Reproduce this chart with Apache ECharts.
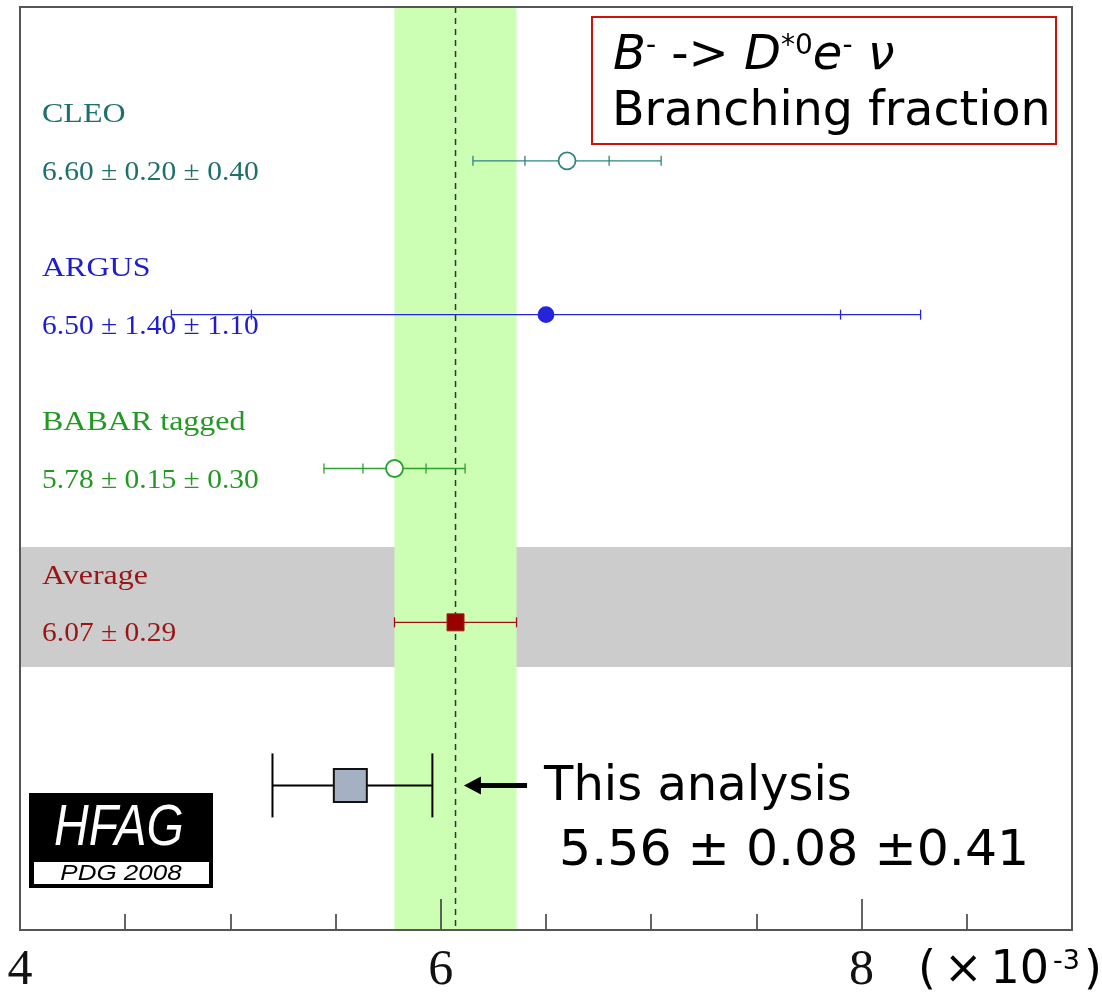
<!DOCTYPE html>
<html><head><meta charset="utf-8">
<script src="https://cdn.jsdelivr.net/npm/echarts@6/dist/echarts.min.js"></script>
<style>html,body{margin:0;padding:0;background:#fff}#c{width:1102px;height:995px}</style>
</head><body><div id="c"></div><script>
// ---- axis ----
const X_MIN = 4, X_MAX = 9, X_INTERVAL = 2;
const Y_MIN = 0, Y_MAX = 6;
const xTickLabels = [4, 6, 8];

// ---- measurements ----
const expNames = ['CLEO', 'ARGUS', 'BABAR tagged'];
const expValues = [6.60, 6.50, 5.78];
const expStat = [0.20, 1.40, 0.15];
const expSyst = [0.40, 1.10, 0.30];
const expLabels = ['6.60 ± 0.20 ± 0.40', '6.50 ± 1.40 ± 1.10', '5.78 ± 0.15 ± 0.30'];
const expRows = [5, 4, 3];
const expTextColors = ['#1e706c', '#1c1cd0', '#229922'];
const expLineColors = ['#2f8480', '#2424dc', '#2ea02e'];
const expFilled = [false, true, false];

// ---- average ----
const avgName = 'Average';
const avgValue = 6.07;
const avgErr = 0.29;
const avgLabel = '6.07 ± 0.29';
const avgRow = 2;
const avgBandRows = [1.71, 2.49];

// ---- this analysis ----
const thisValue = 5.57;
const thisLow = 5.20;
const thisHigh = 5.96;
const thisRow = 0.94;
const thisTitle = 'This analysis';
const thisLabel = '5.56 ± 0.08 ±0.41';
const arrowFrom = 6.41;
const arrowTo = 6.11;

const SERIF = '"Liberation Serif", "Times New Roman", serif';
const SANS = '"DejaVu Sans", Verdana, sans-serif';
const ARIAL = '"Liberation Sans", Arial, sans-serif';

function labelText(x, y, text, color, size, sy) {
  return {
    type: 'text', x: x, y: y, scaleY: sy,
    style: { text: text, x: 0, y: 0, fill: color, fontFamily: SERIF, fontSize: size, align: 'left', verticalAlign: 'middle' }
  };
}

function renderBands(params, api) {
  const g1 = api.coord([X_MIN, avgBandRows[1]]);
  const g2 = api.coord([X_MAX, avgBandRows[0]]);
  const q1 = api.coord([avgValue - avgErr, Y_MAX]);
  const q2 = api.coord([avgValue + avgErr, Y_MIN]);
  const d1 = api.coord([avgValue, Y_MAX]);
  const d2 = api.coord([avgValue, Y_MIN]);
  return { type: 'group', children: [
    { type: 'rect', shape: { x: g1[0], y: g1[1], width: g2[0] - g1[0], height: g2[1] - g1[1] }, style: { fill: '#cccccc' } },
    { type: 'rect', shape: { x: q1[0], y: q1[1], width: q2[0] - q1[0], height: q2[1] - q1[1] }, style: { fill: '#ccffb3' } },
    { type: 'line', shape: { x1: d1[0], y1: d1[1], x2: d2[0], y2: d2[1] }, style: { stroke: '#333', lineWidth: 1.5, lineDash: [6, 5] } }
  ]};
}

function renderMeas(params, api) {
  const v = api.value(0), stat = api.value(1), syst = api.value(2), row = api.value(3), i = api.value(4);
  const tot = Math.sqrt(stat * stat + syst * syst);
  const c = api.coord([v, row]);
  const lo = api.coord([v - tot, row]), hi = api.coord([v + tot, row]);
  const sl = api.coord([v - stat, row]), sh = api.coord([v + stat, row]);
  const left = api.coord([X_MIN, row])[0];
  const col = expLineColors[i];
  const st = { stroke: col, lineWidth: 1.3 };
  const y = c[1];
  const ch = [
    { type: 'line', shape: { x1: lo[0], y1: y, x2: hi[0], y2: y }, style: st },
    { type: 'line', shape: { x1: lo[0], y1: y - 5, x2: lo[0], y2: y + 5 }, style: st },
    { type: 'line', shape: { x1: hi[0], y1: y - 5, x2: hi[0], y2: y + 5 }, style: st },
    { type: 'line', shape: { x1: sl[0], y1: y - 5, x2: sl[0], y2: y + 5 }, style: st },
    { type: 'line', shape: { x1: sh[0], y1: y - 5, x2: sh[0], y2: y + 5 }, style: st },
    { type: 'circle', shape: { cx: c[0], cy: y, r: expFilled[i] ? 7.5 : 8.5 },
      style: { fill: expFilled[i] ? col : '#fff', stroke: col, lineWidth: 1.8 } },
    labelText(left + 22, y - 46, expNames[i], expTextColors[i], 32, 0.86),
    labelText(left + 22, y + 12, expLabels[i], expTextColors[i], 29.5, 0.92)
  ];
  return { type: 'group', children: ch };
}

function renderAvg(params, api) {
  const v = api.value(0), err = api.value(1), row = api.value(2);
  const c = api.coord([v, row]);
  const lo = api.coord([v - err, row]), hi = api.coord([v + err, row]);
  const left = api.coord([X_MIN, row])[0];
  const col = '#a01010';
  const st = { stroke: col, lineWidth: 1.3 };
  const y = c[1];
  return { type: 'group', children: [
    { type: 'line', shape: { x1: lo[0], y1: y, x2: hi[0], y2: y }, style: st },
    { type: 'line', shape: { x1: lo[0], y1: y - 5, x2: lo[0], y2: y + 5 }, style: st },
    { type: 'line', shape: { x1: hi[0], y1: y - 5, x2: hi[0], y2: y + 5 }, style: st },
    { type: 'rect', shape: { x: c[0] - 8.5, y: y - 8.5, width: 17, height: 17 }, style: { fill: '#990000', stroke: '#a02020', lineWidth: 1 } },
    labelText(left + 22, y - 46, avgName, '#9a1515', 32, 0.86),
    labelText(left + 22, y + 12, avgLabel, '#9a1515', 29.5, 0.92)
  ]};
}

function renderThis(params, api) {
  const v = api.value(0), low = api.value(1), high = api.value(2), row = api.value(3);
  const c = api.coord([v, row]);
  const lo = api.coord([low, row]), hi = api.coord([high, row]);
  const af = api.coord([arrowFrom, row]), at = api.coord([arrowTo, row]);
  const y = c[1];
  const st = { stroke: '#000', lineWidth: 2 };
  return { type: 'group', children: [
    { type: 'line', shape: { x1: lo[0], y1: y, x2: hi[0], y2: y }, style: st },
    { type: 'line', shape: { x1: lo[0], y1: y - 32, x2: lo[0], y2: y + 32 }, style: st },
    { type: 'line', shape: { x1: hi[0], y1: y - 32, x2: hi[0], y2: y + 32 }, style: st },
    { type: 'rect', shape: { x: c[0] - 16.5, y: y - 16.5, width: 33, height: 33 }, style: { fill: '#a3b1c2', stroke: '#111', lineWidth: 2 } },
    { type: 'line', shape: { x1: af[0], y1: y, x2: at[0] + 14, y2: y }, style: { stroke: '#000', lineWidth: 5 } },
    { type: 'polygon', shape: { points: [[at[0], y], [at[0] + 17, y - 9], [at[0] + 17, y + 9]] }, style: { fill: '#000' } },
    { type: 'text', style: { text: thisTitle, x: af[0] + 17, y: y + 2, fill: '#000', fontFamily: SANS, fontSize: 48, align: 'left', verticalAlign: 'middle' } },
    { type: 'text', style: { text: thisLabel, x: af[0] + 32, y: y + 66, fill: '#000', fontFamily: SANS, fontSize: 50.5, align: 'left', verticalAlign: 'middle' } }
  ]};
}

function renderFrame(params, api) {
  const p1 = api.coord([X_MIN, Y_MAX]);
  const p2 = api.coord([X_MAX, Y_MIN]);
  return { type: 'rect', shape: { x: p1[0], y: p1[1], width: p2[0] - p1[0], height: p2[1] - p1[1] },
    style: { fill: 'none', stroke: '#555', lineWidth: 2 } };
}

const chart = echarts.init(document.getElementById('c'), null, { renderer: 'canvas' });
chart.setOption({
  animation: false,
  backgroundColor: '#fff',
  grid: { left: 20, right: 30, top: 7, bottom: 65, containLabel: false, outerBoundsMode: 'none' },
  xAxis: {
    type: 'value', min: X_MIN, max: X_MAX, interval: X_INTERVAL, z: 10,
    axisLine: { show: true, lineStyle: { color: '#333', width: 2 } },
    axisTick: { show: true, inside: true, length: 31, lineStyle: { color: '#333', width: 1.5 } },
    minorTick: { show: true, splitNumber: 4, length: 16, lineStyle: { color: '#333', width: 1.5 } },
    splitLine: { show: false },
    axisLabel: { margin: 16, fontFamily: SERIF, fontSize: 50, color: '#111', showMinLabel: true,
      formatter: v => xTickLabels.includes(v) ? String(v) : '' }
  },
  yAxis: { type: 'value', min: Y_MIN, max: Y_MAX, show: false },
  series: [
    { type: 'custom', silent: true, z: 1, renderItem: renderBands, data: [[avgValue, avgRow]] },
    { type: 'custom', silent: true, z: 3, renderItem: renderMeas,
      data: expValues.map((v, i) => [v, expStat[i], expSyst[i], expRows[i], i]) },
    { type: 'custom', silent: true, z: 3, renderItem: renderAvg, data: [[avgValue, avgErr, avgRow]] },
    { type: 'custom', silent: true, z: 3, renderItem: renderThis, data: [[thisValue, thisLow, thisHigh, thisRow]] },
    { type: 'custom', silent: true, z: 20, renderItem: renderFrame, data: [[X_MIN, Y_MIN]] }
  ],
  graphic: [
    { type: 'rect', z: 30, shape: { x: 592, y: 17, width: 464, height: 127 }, style: { fill: '#fff', stroke: '#cc1111', lineWidth: 2 } },
    { type: 'text', z: 31, x: 613, y: 57, style: {
      text: '{i|B}{s|-}{n| -> }{i|D}{s|*0}{i|e}{s|-}{i| ν}', x: 0, y: 0, verticalAlign: 'middle', align: 'left',
      rich: {
        i: { fontFamily: SANS, fontSize: 48, fontStyle: 'italic', fill: '#000', color: '#000' },
        n: { fontFamily: SANS, fontSize: 48, fill: '#000', color: '#000' },
        s: { fontFamily: SANS, fontSize: 28, fill: '#000', color: '#000', verticalAlign: 'top' }
      } } },
    { type: 'text', z: 31, x: 612, y: 113, style: { text: 'Branching fraction', x: 0, y: 0, fontFamily: SANS, fontSize: 47.5, fill: '#000', verticalAlign: 'middle', align: 'left' } },
    // HFAG logo
    { type: 'rect', z: 30, shape: { x: 29, y: 793, width: 184, height: 95 }, style: { fill: '#000' } },
    { type: 'rect', z: 31, shape: { x: 34, y: 862, width: 175, height: 22 }, style: { fill: '#fff' } },
    { type: 'text', z: 32, x: 119, y: 829, scaleY: 1.2, style: { text: 'HFAG', x: 0, y: 0, fontFamily: ARIAL, fontStyle: 'italic', fontSize: 48, fill: '#fff', align: 'center', verticalAlign: 'middle' } },
    { type: 'text', z: 32, x: 121, y: 874, scaleY: 0.85, style: { text: 'PDG 2008', x: 0, y: 0, fontFamily: ARIAL, fontStyle: 'italic', fontSize: 26, fill: '#000', align: 'center', verticalAlign: 'middle' } },
    // unit
    { type: 'text', z: 30, x: 914, y: 971, style: {
      text: '{n|(}{n|×}{n|10}{s|-3}{n|)}', x: 0, y: 0, verticalAlign: 'middle', align: 'left',
      rich: {
        n: { fontFamily: SANS, fontSize: 46, fill: '#000', color: '#000', padding: [0, 4, 0, 4] },
        s: { fontFamily: SANS, fontSize: 27, fill: '#000', color: '#000', verticalAlign: 'top' }
      } } }
  ]
});
</script></body></html>
